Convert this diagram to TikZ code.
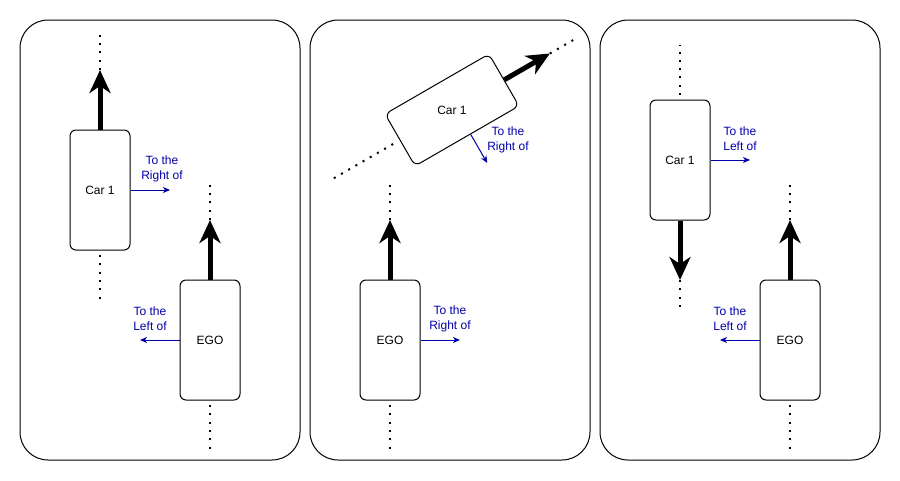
\documentclass[tikz,border=0pt]{standalone}
\usepackage{fontspec}
\setmainfont{Liberation Sans}
\usetikzlibrary{arrows.meta,calc}
\definecolor{relblue}{RGB}{0,0,170}
\tikzset{
  panel/.style={draw, line width=1pt, rounded corners=28pt, minimum width=280pt, minimum height=440pt, inner sep=0pt},
  carbox/.style={draw, fill=white, line width=1pt, rounded corners=6pt, minimum width=60pt, minimum height=120pt, inner sep=0pt, font=\fontsize{12}{14}\selectfont},
  motion/.style={line width=5pt, -{Stealth[length=23pt,width=21pt,inset=7pt]}},
  lane/.style={line width=2pt, dash pattern=on 2pt off 6.3pt},
  rel/.style={draw=relblue, line width=1pt, -{Stealth[length=7pt,width=6pt,inset=2pt]}},
  rellabel/.style={text=relblue, align=center, font=\fontsize{12}{15}\selectfont, inner sep=0pt},
}
\begin{document}
\begin{tikzpicture}[x=1pt,y=1pt]
\useasboundingbox[fill=white] (0,0) rectangle (900,-480);

% three scenario panels
\node[panel] (p1) at (160,-240) {};
\node[panel] (p2) at (450,-240) {};
\node[panel] (p3) at (740,-240) {};

% ---- scenario 1: Car 1 ahead on the left lane ----
\node[carbox] (a1) at (100,-190) {Car 1};
\node[carbox] (ae) at (210,-340) {EGO};
\coordinate (a1tip) at (100,-70);
\coordinate (aetip) at (210,-220);
\draw[lane] (a1tip) -- (100,-35);
\draw[lane] (100,-255) -- (100,-300);
\draw[lane] (aetip) -- (210,-185);
\draw[lane] (210,-405) -- (210,-450);
\draw[motion] (a1.north) -- (a1tip);
\draw[motion] (ae.north) -- (aetip);
\coordinate (a1r) at (170,-190);
\coordinate (ael) at (140,-340);
\draw[rel] (a1.east) -- (a1r);
\draw[rel] (ae.west) -- (ael);
\node[rellabel] (a1rl) at (162,-169) {To the\\Right of};
\node[rellabel] (aell) at (150,-319) {To the\\Left of};

% ---- scenario 2: Car 1 crossing at an angle ----
\node[carbox, rotate=30, minimum width=120pt, minimum height=60pt] (b1) at (452,-110) {};
\node[font=\fontsize{12}{14}\selectfont, inner sep=0pt] (b1t) at (b1.center) {Car 1};
\node[carbox] (be) at (390,-340) {EGO};
\coordinate (b1tip) at ($(b1.center)+(30:113)$);
\coordinate (b1far) at ($(b1.center)+(30:142)$);
\coordinate (b1back) at ($(b1.center)+(210:68)$);
\coordinate (b1end) at ($(b1.center)+(210:140)$);
\coordinate (betip) at (390,-220);
\draw[lane] (b1tip) -- (b1far);
\draw[lane] (b1back) -- (b1end);
\draw[lane] (betip) -- (390,-185);
\draw[lane] (390,-405) -- (390,-450);
\draw[motion] (b1.east) -- (b1tip);
\draw[motion] (be.north) -- (betip);
\coordinate (b1rs) at ($(b1.south)+(30:4)$);
\coordinate (b1r) at ($(b1rs)+(-60:33)$);
\coordinate (ber) at (460,-340);
\draw[rel] (b1rs) -- (b1r);
\draw[rel] (be.east) -- (ber);
\node[rellabel] (b1rl) at (508,-140) {To the\\Right of};
\node[rellabel] (berl) at (450,-319) {To the\\Right of};

% ---- scenario 3: Car 1 oncoming on the left lane ----
\node[carbox] (c1) at (680,-160) {Car 1};
\node[carbox] (ce) at (790,-340) {EGO};
\coordinate (c1tip) at (680,-280);
\coordinate (cetip) at (790,-220);
\draw[lane] (680,-95) -- (680,-45);
\draw[lane] (c1tip) -- (680,-310);
\draw[lane] (cetip) -- (790,-185);
\draw[lane] (790,-405) -- (790,-450);
\draw[motion] (c1.south) -- (c1tip);
\draw[motion] (ce.north) -- (cetip);
\coordinate (c1l) at (750,-160);
\coordinate (cel) at (720,-340);
\draw[rel] (c1.east) -- (c1l);
\draw[rel] (ce.west) -- (cel);
\node[rellabel] (c1ll) at (740,-139) {To the\\Left of};
\node[rellabel] (cell) at (730,-319) {To the\\Left of};
\end{tikzpicture}
\end{document}
